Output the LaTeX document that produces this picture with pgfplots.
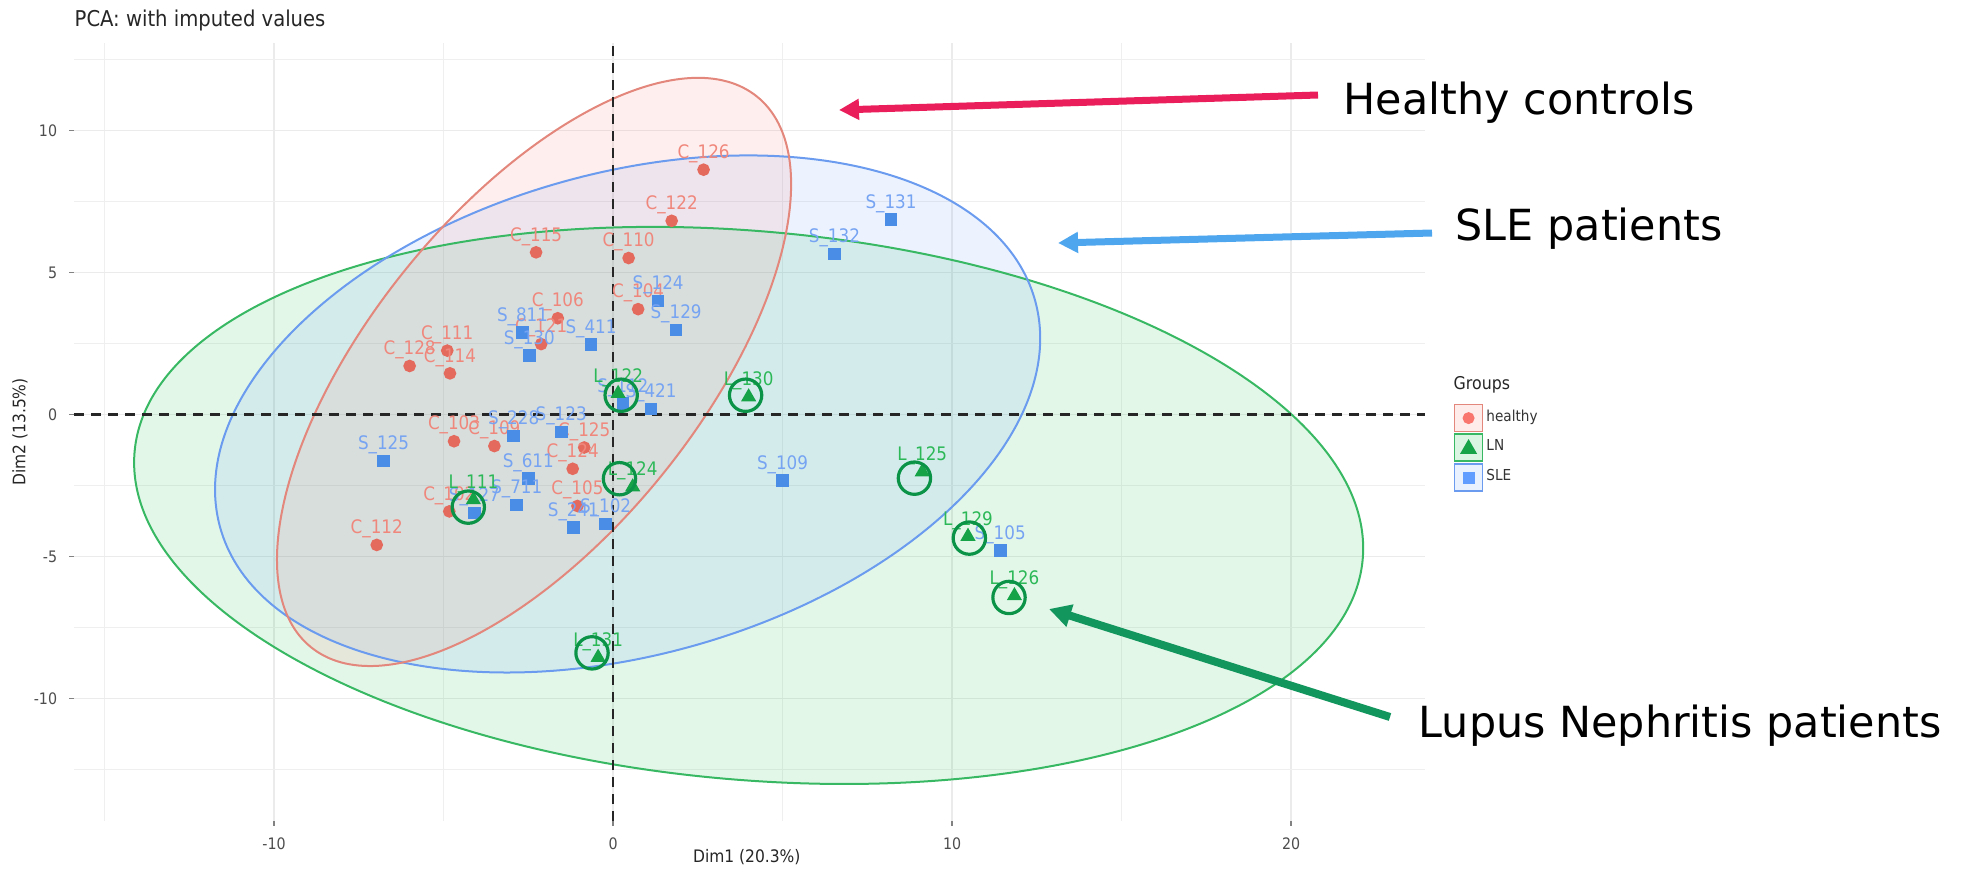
\documentclass[border=0pt]{standalone}
\usepackage{pgfplots}
\pgfplotsset{compat=1.18}
\usepackage{pgfplotstable}
\usepackage{fontspec}
\setmainfont{DejaVu Sans Condensed}
\newfontfamily\annfont{DejaVu Sans}
\usetikzlibrary{arrows.meta}

% group colours
\definecolor{hcol}{HTML}{F8766D}
\definecolor{lcol}{HTML}{00BA38}
\definecolor{scol}{HTML}{619CFF}
\definecolor{hline}{HTML}{E3867B}
\definecolor{lline}{HTML}{38B862}
\definecolor{sline}{HTML}{6A9BEE}
\definecolor{hpt}{HTML}{E46A5D}
\definecolor{lpt}{HTML}{16A348}
\definecolor{spt}{HTML}{4A8DE6}
\definecolor{hlab}{HTML}{F0877C}
\definecolor{llab}{HTML}{2DB858}
\definecolor{slab}{HTML}{76A3F2}
\definecolor{ringgreen}{HTML}{0B9447}
\definecolor{arrred}{HTML}{E91E5A}
\definecolor{arrblue}{HTML}{4EA6EE}
\definecolor{arrgreen}{HTML}{13955E}
\definecolor{gridc}{HTML}{EBEBEB}
\definecolor{tickc}{HTML}{4D4D4D}

% PCA scores: Dim1, Dim2, sample id
\pgfplotstableread{
x y label
2.67 8.62 C\_126
1.73 6.82 C\_122
-2.27 5.71 C\_115
0.46 5.51 C\_110
0.74 3.71 C\_104
-1.63 3.39 C\_106
-2.12 2.48 C\_121
-4.89 2.25 C\_111
-6.00 1.71 C\_128
-4.81 1.45 C\_114
-4.69 -0.94 C\_103
-3.50 -1.11 C\_109
-0.85 -1.16 C\_125
-1.19 -1.91 C\_124
-1.05 -3.22 C\_105
-4.83 -3.41 C\_102
-6.97 -4.59 C\_112
}\healthy

\pgfplotstableread{
x y label
0.15 0.74 L\_122
4.00 0.62 L\_130
0.58 -2.55 L\_124
-4.12 -3.00 L\_111
-0.44 -8.55 L\_131
9.12 -2.02 L\_125
10.47 -4.29 L\_129
11.84 -6.38 L\_126
}\lupus

\pgfplotstableread{
x y label
1.33 4.00 S\_124
1.86 2.98 S\_129
-2.67 2.89 S\_811
-0.65 2.47 S\_411
-2.47 2.07 S\_130
0.29 0.39 S\_112
1.12 0.19 S\_421
-2.93 -0.76 S\_228
-1.53 -0.61 S\_123
-6.77 -1.64 S\_125
-2.50 -2.25 S\_611
5.00 -2.32 S\_109
-4.09 -3.47 S\_127
-2.84 -3.18 S\_711
-1.17 -3.98 S\_241
-0.22 -3.85 S\_102
8.20 6.86 S\_131
6.53 5.65 S\_132
11.42 -4.79 S\_105
}\sle

% hand-drawn rings around the LN samples
\pgfplotstableread{
x y
0.24 0.68
3.91 0.68
0.19 -2.26
-4.27 -3.26
-0.62 -8.39
8.89 -2.24
10.51 -4.35
11.68 -6.44
}\rings

\begin{document}
\begin{tikzpicture}[x=1cm,y=1cm]
\useasboundingbox (0,0) rectangle (19.63,8.68);

\begin{axis}[
  at={(0.74cm,0.47cm)}, anchor=south west,
  scale only axis, width=13.51cm, height=7.78cm,
  xmin=-15.9, xmax=23.95, ymin=-14.31, ymax=13.08,
  clip mode=individual,
  axis line style={draw=none},
  xtick={-10,0,10,20}, minor xtick={-15,-5,5,15},
  ytick={-10,-5,0,5,10}, minor ytick={-12.5,-7.5,-2.5,2.5,7.5,12.5},
  grid=both,
  major grid style={gridc, line width=0.014cm},
  minor grid style={gridc!80, line width=0.01cm},
  tick pos=left, tick align=outside,
  major tick length=0.045cm, minor tick length=0cm,
  tick style={tickc!70, line width=0.012cm},
  /pgf/number format/assume math mode=true,
  tick label style={font=\fontsize{4.5}{5}\selectfont, text=tickc},
  every axis x label/.style={at={(axis description cs:0.498,-0.046)}, anchor=center, font=\fontsize{4.9}{6}\selectfont, text=black!85},
  every axis y label/.style={at={(axis description cs:-0.040,0.5)}, rotate=90, anchor=center, font=\fontsize{4.9}{6}\selectfont, text=black!85},
  xlabel={Dim1 (20.3\%)},
  ylabel={Dim2 (13.5\%)},
  legend style={at={(axis description cs:1.0207,0.5373)}, anchor=north west,
    draw=none, fill=none, inner sep=0pt, row sep=0.01cm,
    font=\fontsize{4.3}{5}\selectfont, text=black!80,
    nodes={inner sep=0.03cm}},
  legend cell align=left,
]

% legend keys
\addlegendimage{legend image code/.code={
  \draw[draw=hline, fill=hcol!14, line width=0.018cm] (0cm,-0.135cm) rectangle (0.28cm,0.135cm);
  \draw[mark=*, mark size=1.5pt, color=hcol] plot coordinates {(0.14cm,0cm)};}}
\addlegendentry{healthy}
\addlegendimage{legend image code/.code={
  \draw[draw=lline, fill=lcol!14, line width=0.018cm] (0cm,-0.135cm) rectangle (0.28cm,0.135cm);
  \draw[mark=triangle*, mark size=2.4pt, color=lpt] plot coordinates {(0.14cm,-0.01cm)};}}
\addlegendentry{LN}
\addlegendimage{legend image code/.code={
  \draw[draw=sline, fill=scol!14, line width=0.018cm] (0cm,-0.135cm) rectangle (0.28cm,0.135cm);
  \draw[mark=square*, mark size=1.5pt, color=scol] plot coordinates {(0.14cm,0cm)};}}
\addlegendentry{SLE}

% concentration ellipses
\fill[lcol, fill opacity=0.11] (axis cs:4.00,-3.20) ellipse [x radius=6.164cm, y radius=2.743cm, rotate=-5.0];
\fill[scol, fill opacity=0.12] (axis cs:0.43,0.02) ellipse [x radius=4.23cm, y radius=2.41cm, rotate=15.6];
\fill[hcol, fill opacity=0.12] (axis cs:-2.33,1.50) ellipse [x radius=3.543cm, y radius=1.643cm, rotate=50.97];
\draw[lline, line width=0.02cm] (axis cs:4.00,-3.20) ellipse [x radius=6.164cm, y radius=2.743cm, rotate=-5.0];
\draw[sline, line width=0.02cm] (axis cs:0.43,0.02) ellipse [x radius=4.23cm, y radius=2.41cm, rotate=15.6];
\draw[hline, line width=0.02cm] (axis cs:-2.33,1.50) ellipse [x radius=3.543cm, y radius=1.643cm, rotate=50.97];

% reference lines through the origin
\draw[black!85, line width=0.022cm, dash pattern=on 0.1cm off 0.07cm] (axis cs:0,-14.31) -- (axis cs:0,13.08);
\draw[black!85, line width=0.022cm, dash pattern=on 0.1cm off 0.07cm] (axis cs:-15.9,0) -- (axis cs:23.95,0);

% samples
\addplot[only marks, mark=*, mark size=1.6pt, color=hpt, forget plot,
  point meta=explicit symbolic, nodes near coords, nodes near coords align={center},
  every node near coord/.append style={font=\fontsize{5.3}{6}\selectfont, text=hlab, yshift=0.16cm, inner sep=0pt}]
  table[x=x, y=y, meta=label] {\healthy};
\addplot[only marks, mark=square*, mark size=1.6pt, color=spt, forget plot,
  point meta=explicit symbolic, nodes near coords, nodes near coords align={center},
  every node near coord/.append style={font=\fontsize{5.3}{6}\selectfont, text=slab, yshift=0.16cm, inner sep=0pt}]
  table[x=x, y=y, meta=label] {\sle};
\addplot[only marks, mark=triangle*, mark size=2.1pt, color=lpt, forget plot,
  point meta=explicit symbolic, nodes near coords, nodes near coords align={center},
  every node near coord/.append style={font=\fontsize{5.3}{6}\selectfont, text=llab, yshift=0.16cm, inner sep=0pt}]
  table[x=x, y=y, meta=label] {\lupus};

% rings highlighting LN samples
\addplot[only marks, mark=o, mark size=4.6pt, forget plot,
  mark options={draw=ringgreen, line width=0.032cm}]
  table[x=x, y=y] {\rings};
\end{axis}

% title and legend heading
\node[anchor=west, inner sep=0pt, font=\fontsize{6.2}{7}\selectfont, text=black!85] at (0.74,8.48) {PCA: with imputed values};
\node[anchor=west, inner sep=0pt, font=\fontsize{5.0}{6}\selectfont, text=black!85] at (14.53,4.83) {Groups};

% call-outs
\draw[arrred, line width=0.07cm, -{Triangle[length=0.2cm, width=0.2cm]}] (13.18,7.73) -- (8.39,7.58);
\draw[arrblue, line width=0.07cm, -{Triangle[length=0.2cm, width=0.2cm]}] (14.32,6.35) -- (10.58,6.25);
\draw[arrgreen, line width=0.08cm, -{Triangle[length=0.22cm, width=0.22cm]}] (13.90,1.51) -- (10.49,2.59);
\node[anchor=base west, inner sep=0pt, font=\annfont\fontsize{12.2}{14}\selectfont] at (13.43,7.54) {Healthy controls};
\node[anchor=base west, inner sep=0pt, font=\annfont\fontsize{12.2}{14}\selectfont] at (14.55,6.28) {SLE patients};
\node[anchor=base west, inner sep=0pt, font=\annfont\fontsize{12.2}{14}\selectfont] at (14.18,1.31) {Lupus Nephritis patients};
\end{tikzpicture}
\end{document}
